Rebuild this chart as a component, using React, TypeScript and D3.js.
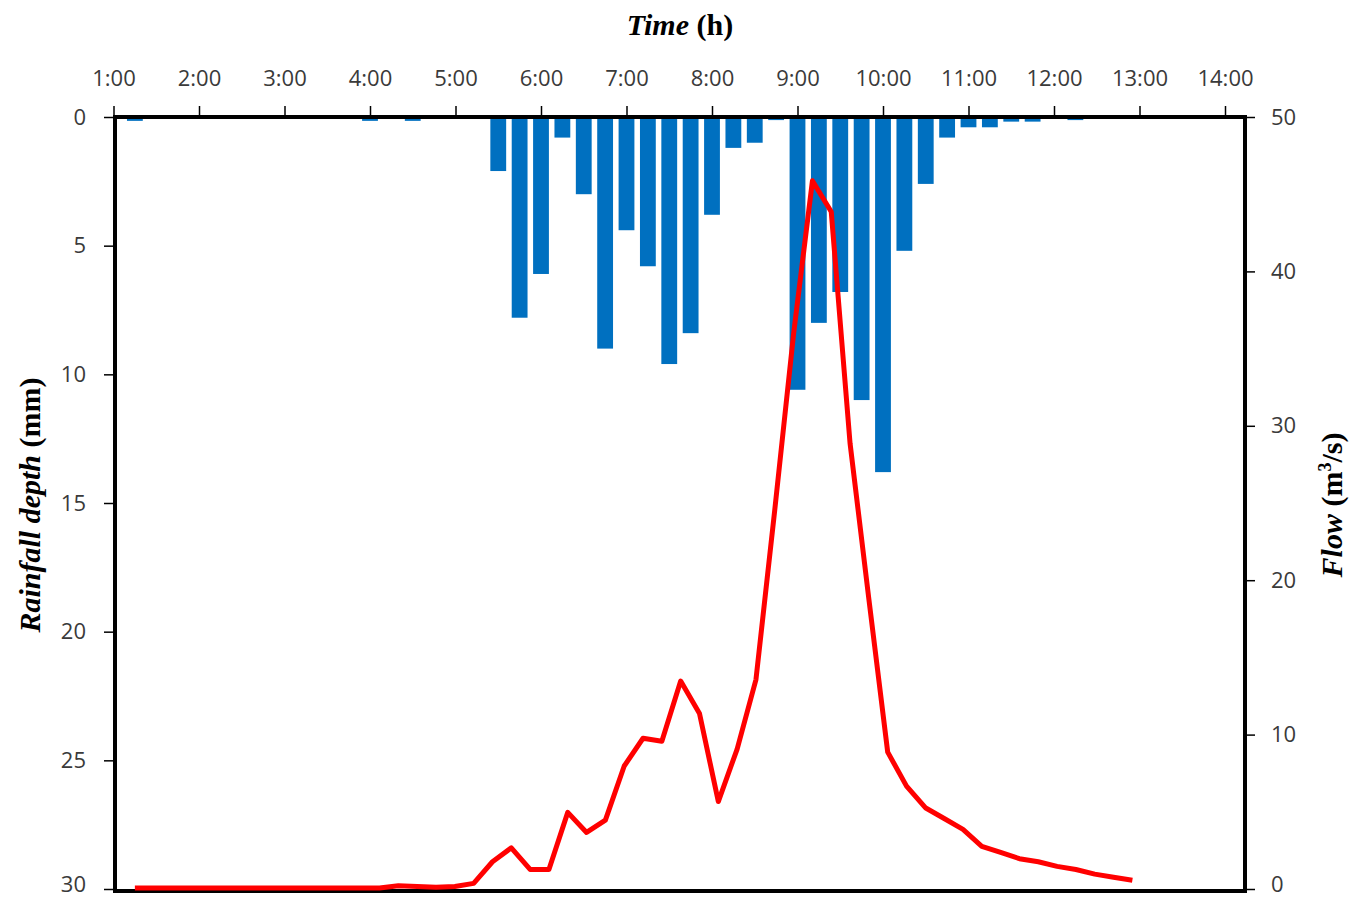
import React, { useEffect, useRef } from "react";
import * as d3 from "d3";

// rainfall bars, 15 min steps (only non-zero ones)
const rainTimes = ["1:15", "4:00", "4:30", "5:30", "5:45", "6:00", "6:15", "6:30", "6:45", "7:00",
  "7:15", "7:30", "7:45", "8:00", "8:15", "8:30", "8:45", "9:00", "9:15", "9:30", "9:45", "10:00",
  "10:15", "10:30", "10:45", "11:00", "11:15", "11:30", "11:45", "12:15"];
const rainDepth = [0.15, 0.15, 0.15, 2.1, 7.8, 6.1, 0.8, 3.0, 9.0, 4.4, 5.8, 9.6, 8.4, 3.8, 1.2, 1.0, 0.12,
  10.6, 8.0, 6.8, 11.0, 13.8, 5.2, 2.6, 0.8, 0.4, 0.4, 0.18, 0.18, 0.12];

// flow hydrograph, evenly spaced samples between flowStart and flowEnd
const flowStart = "1:15";
const flowEnd = "12:55";
const flow = [0, 0, 0, 0, 0, 0, 0, 0, 0, 0, 0, 0, 0, 0, 0.15, 0.1, 0.05, 0.1, 0.3, 1.7, 2.6, 1.2, 1.2,
  4.9, 3.6, 4.4, 7.9, 9.7, 9.5, 13.4, 11.3, 5.6, 9.0, 13.5, 24.5, 35.9, 45.8, 43.8, 28.8, 18.7, 8.8,
  6.6, 5.2, 4.5, 3.8, 2.7, 2.3, 1.9, 1.7, 1.4, 1.2, 0.9, 0.7, 0.5];

const hourTicks = [1, 2, 3, 4, 5, 6, 7, 8, 9, 10, 11, 12, 13, 14];
const rainTicks = [0, 5, 10, 15, 20, 25, 30];
const flowTicks = [0, 10, 20, 30, 40, 50];

const toHours = (s: string) => {
  const [h, m] = s.split(":").map(Number);
  return h + m / 60;
};

const App = () => {
  const ref = useRef<SVGSVGElement>(null);

  useEffect(() => {
    const svg = d3.select(ref.current);
    svg.selectAll("*").remove();

    const left = 115, right = 1245, top = 117, bottom = 889;

    const x = d3.scaleLinear().domain([1, 14]).range([113.5, 1225]);
    const yRain = d3.scaleLinear().domain([0, 30]).range([top, bottom]);
    const yFlow = d3.scaleLinear().domain([0, 50]).range([bottom, top]);
    const xFlow = d3.scaleLinear().domain([0, flow.length - 1]).range([toHours(flowStart), toHours(flowEnd)]);

    const barW = (x(1.25) - x(1)) * 0.74;

    // bars
    svg.append("g")
      .selectAll("rect")
      .data(rainTimes)
      .join("rect")
        .attr("x", d => x(toHours(d)) - barW / 2)
        .attr("y", yRain(0))
        .attr("width", barW)
        .attr("height", (d, i) => yRain(rainDepth[i]) - yRain(0))
        .attr("fill", "#0070c0");

    // frame
    svg.append("rect")
      .attr("x", left)
      .attr("y", top)
      .attr("width", right - left)
      .attr("height", bottom + 2 - top)
      .attr("fill", "none")
      .attr("stroke", "#000")
      .attr("stroke-width", 4);

    const tickFont = (g: any) => g
      .attr("font-family", "'Open Sans', sans-serif")
      .attr("font-size", 22)
      .call((g: any) => g.select(".domain").remove())
      .call((g: any) => g.selectAll("line").attr("stroke", "#000").attr("stroke-width", 1.5))
      .call((g: any) => g.selectAll("text").attr("fill", "#3a3a3a"));

    svg.append("g")
      .attr("transform", `translate(0,${top - 2})`)
      .call(d3.axisTop(x).tickValues(hourTicks).tickSize(9).tickPadding(20).tickFormat(d => `${d}:00`))
      .call(tickFont);

    const leftAxis = svg.append("g")
      .attr("transform", `translate(${left - 2},0)`)
      .call(d3.axisLeft(yRain).tickValues(rainTicks).tickSize(9).tickPadding(18))
      .call(tickFont);

    const rightAxis = svg.append("g")
      .attr("transform", `translate(${right + 2},0)`)
      .call(d3.axisRight(yFlow).tickValues(flowTicks).tickSize(8).tickPadding(16))
      .call(tickFont);

    // keep the bottom-most labels inside the picture
    leftAxis.selectAll("text").filter((d: any) => d === 30).attr("dy", "0.1em");
    rightAxis.selectAll("text").filter((d: any) => d === 0).attr("dy", "0.1em");

    // flow line
    const line = d3.line<number>()
      .x((d, i) => x(xFlow(i)))
      .y(d => yFlow(d) - 1);

    svg.append("path")
      .datum(flow)
      .attr("d", line)
      .attr("fill", "none")
      .attr("stroke", "#ff0000")
      .attr("stroke-width", 5)
      .attr("stroke-linejoin", "round");

    // titles
    const serif = "'Liberation Serif', 'Times New Roman', serif";
    const t1 = svg.append("text")
      .attr("x", 680).attr("y", 35)
      .attr("text-anchor", "middle")
      .attr("font-family", serif).attr("font-size", 30).attr("font-weight", "bold");
    t1.append("tspan").attr("font-style", "italic").text("Time");
    t1.append("tspan").text(" (h)");

    const t2 = svg.append("text")
      .attr("transform", "translate(40,505) rotate(-90)")
      .attr("text-anchor", "middle")
      .attr("font-family", serif).attr("font-size", 30).attr("font-weight", "bold");
    t2.append("tspan").attr("font-style", "italic").text("Rainfall depth");
    t2.append("tspan").text(" (mm)");

    const t3 = svg.append("text")
      .attr("transform", "translate(1342,505) rotate(-90)")
      .attr("text-anchor", "middle")
      .attr("font-family", serif).attr("font-size", 30).attr("font-weight", "bold");
    t3.append("tspan").attr("font-style", "italic").text("Flow");
    t3.append("tspan").text(" (m");
    t3.append("tspan").attr("font-size", 18).attr("dy", -11).text("3");
    t3.append("tspan").attr("dy", 11).text("/s)");
  }, []);

  return (
    <svg ref={ref} width={1349} height={900}
      style={{ position: "absolute", left: 0, top: 0, background: "#fff" }} />
  );
};

export default App;
